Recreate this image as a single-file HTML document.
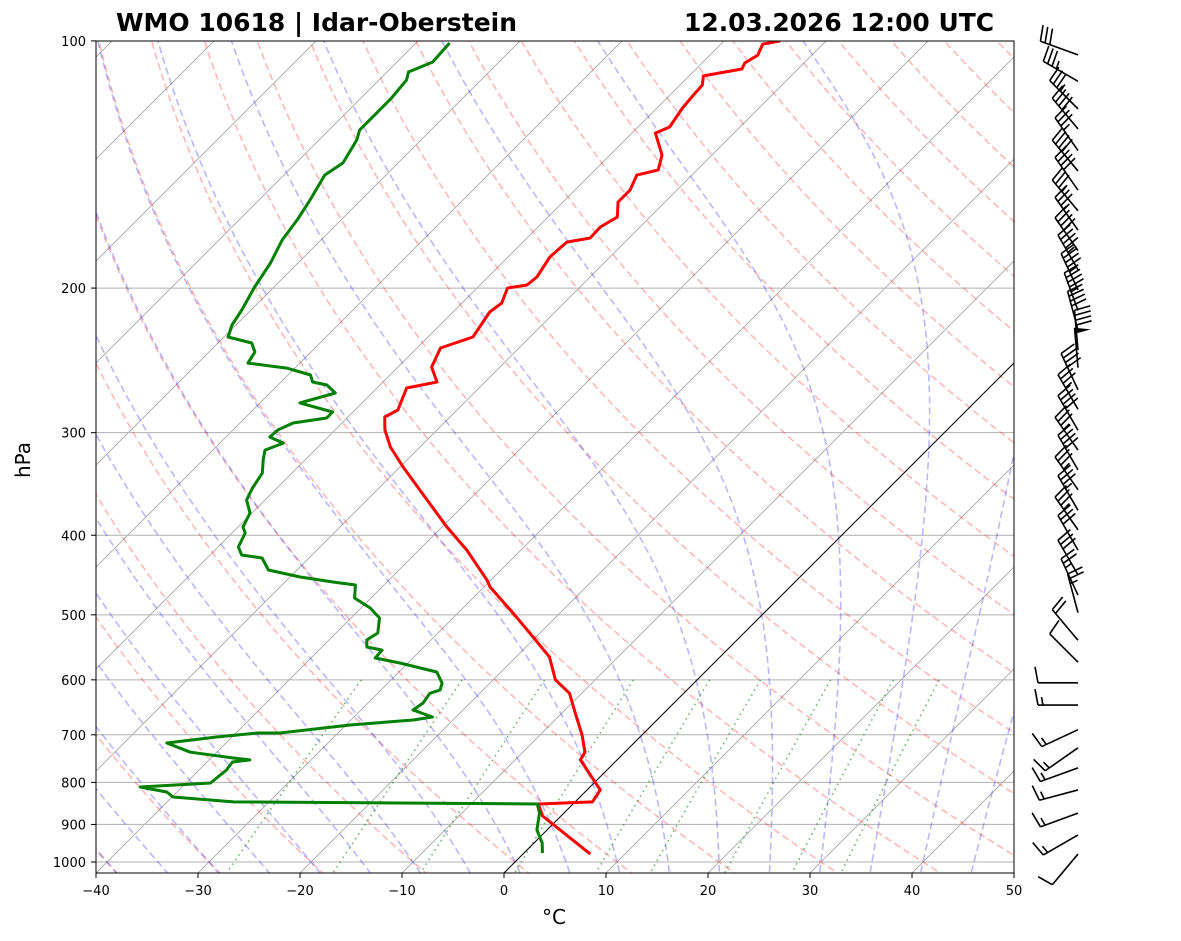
<!DOCTYPE html>
<html><head><meta charset="utf-8"><style>
html,body{margin:0;padding:0;background:#fff;}
svg{display:block;font-family:"DejaVu Sans","Liberation Sans",sans-serif;}
</style></head><body>
<svg id="chart" width="1181" height="941" viewBox="0 0 1181 941" xmlns="http://www.w3.org/2000/svg">
<defs><clipPath id="plotclip"><rect x="96" y="41" width="918" height="832"/></clipPath></defs>
<rect x="0" y="0" width="1181" height="941" fill="#fff"/>
<g id="bg" clip-path="url(#plotclip)"></g>
<g id="prof" clip-path="url(#plotclip)"></g>
<rect x="96" y="41" width="918" height="832" fill="none" stroke="#000" stroke-width="1"/>
<g id="axes"></g>
<g id="barbs"></g>
<text x="116" y="31" font-size="24.5" font-weight="bold" textLength="401" lengthAdjust="spacingAndGlyphs">WMO 10618 | Idar-Oberstein</text>
<text x="684" y="31" font-size="24.5" font-weight="bold" textLength="310" lengthAdjust="spacingAndGlyphs">12.03.2026 12:00 UTC</text>
<text x="554" y="924" font-size="20" text-anchor="middle">°C</text>
<text x="30" y="460" font-size="20" text-anchor="middle" transform="rotate(-90 30 460)">hPa</text>
</svg>
<script>
// ---- data ----
const tempP = [978,879,850,845,817,799,751,735,700,657,623,600,563,532,497.5,462.5,453.5,417,391,362.4,330.3,312.3,297.8,287.1,281.5,264.7,260.3,249.6,236.6,229.4,213.9,208.6,200,198.3,193.9,183.3,175.8,173.8,168.5,163.9,157.1,151.9,145.7,143.6,137.7,129.5,127.3,120.7,116.4,113.2,110.3,108.2,106.4,104.1,100.9,100];
const tempT = [6.6,-1.8,-3.4,1.7,1.3,0.0,-3.6,-3.9,-5.9,-8.8,-11.2,-13.9,-16.7,-20.3,-24.6,-29.4,-30.4,-35.3,-39.5,-44.1,-49.7,-52.9,-55.1,-56.4,-55.8,-57.1,-54.7,-56.7,-57.7,-55.6,-56.4,-56.1,-57.0,-55.4,-55.2,-55.9,-55.7,-53.8,-53.9,-53.2,-54.6,-54.6,-55.4,-53.8,-54.9,-57.7,-56.9,-57.5,-57.7,-57.8,-58.6,-55.5,-55.8,-55.3,-55.9,-54.5];
const dewP = [975,948,914,871.6,850,845,833.4,821.8,810.3,801.3,772.6,755.5,751,747.1,735,716.3,704.4,696.5,696.5,681,671.5,665.9,653,640.3,623,617.4,605.3,587,572.4,564.4,552,547.2,536.6,526.2,504.5,490.5,477,459.9,456,449.7,441,426.3,422.8,413.4,397.5,391,375.8,362.4,350.4,336,323.9,315,308.9,303.7,297.8,292,287.9,283.1,276,268.4,262.5,260.3,255.2,250.3,246.8,239.3,233.3,229.4,221.8,212.7,199.4,186.4,174.8,165.2,156.2,145.7,140.8,132,128.4,120.7,117.4,111.6,109.1,106.1,100.6];
const dewT = [1.8,0.8,-1.0,-2.4,-3.5,-33.5,-39.9,-41.0,-44.1,-37.6,-37.3,-37.5,-36.0,-37.8,-42.6,-45.8,-41.5,-37.9,-35.7,-29.6,-23.9,-22.3,-24.9,-24.6,-24.9,-24.2,-24.7,-26.3,-30.8,-33.7,-33.8,-35.6,-36.3,-35.9,-37.2,-39.1,-41.6,-42.8,-45.3,-49.0,-52.8,-54.6,-56.9,-58.0,-58.7,-59.5,-60.2,-61.8,-62.4,-62.9,-64.1,-64.9,-63.8,-65.7,-65.6,-64.8,-62.0,-62.0,-66.1,-63.6,-65.2,-66.9,-67.8,-70.8,-75.1,-75.5,-76.7,-79.6,-80.4,-80.9,-81.9,-82.7,-83.8,-84.3,-85.0,-86.0,-85.4,-86.3,-87.0,-87.0,-87.0,-87.3,-87.9,-86.5,-86.7];
const windP = [978,927,872,817,768,726,690,644,605,571,537,497,473,447,417,394,373,352,333,315,298,281,266,250,238,225,213,201,190,180,170,161,152,144,136,128,121,112,104];
const windDir = [220,240,250,255,250,235,245,270,270,315,320,345,335,330,330,325,330,325,330,325,330,330,335,355,355,345,340,335,330,325,325,320,325,320,325,320,315,300,290];
const windSpd = [10,15,15,15,15,15,15,15,10,10,20,25,25,30,30,35,35,35,40,35,40,35,40,50,40,40,45,45,45,40,35,35,40,40,35,40,35,35,30];
const pTicks = [100,200,300,400,500,600,700,800,900,1000];
const tTicks = [-40,-30,-20,-10,0,10,20,30,40,50];
const dryT0 = [-50,-40,-30,-20,-10,0,10,20,30,40,50,60,70,80,90,100,110,120,130,140,150,160,170,180,190,200];
const moistT0 = [-45,-40,-35,-30,-25,-20,-15,-10,-5,0,5,10,15,20,25,30,35,40,45];
const mixW = [0.0004,0.001,0.002,0.004,0.007,0.01,0.016,0.024,0.032];
const isoT = [-150,-140,-130,-120,-110,-100,-90,-80,-70,-60,-50,-40,-30,-20,-10,10,20,30,40,50];

// ---- axis functions ----
const NS="http://www.w3.org/2000/svg";
function yOf(p){return 862+356.6*Math.log(p/1000);}
function xOf(T,p){return 96+(T+40)*10.2+(873-yOf(p));}
function mk(tag,attrs,parent){const e=document.createElementNS(NS,tag);for(const k in attrs)e.setAttribute(k,attrs[k]);parent.appendChild(e);return e;}
function ptsStr(arr){return arr.map(a=>xOf(a[0],a[1]).toFixed(1)+","+yOf(a[1]).toFixed(1)).join(" ");}
const bg=document.getElementById('bg'),prof=document.getElementById('prof'),axes=document.getElementById('axes'),barbs=document.getElementById('barbs');
const pList=[];for(let p=1060;p>=95;p-=5)pList.push(p);

isoT.forEach(t=>{const l=mk('line',{x1:xOf(t,1060),y1:yOf(1060),x2:xOf(t,95),y2:yOf(95),stroke:'#000','stroke-opacity':0.35,'stroke-width':0.9},bg);

});
pTicks.forEach(p=>{const l=mk('line',{x1:96,y1:yOf(p),x2:1014,y2:yOf(p),stroke:'#b0b0b0','stroke-width':1},bg);

});
dryT0.forEach(t0=>{const a=pList.map(p=>[(t0+273.15)*Math.pow(p/1000,0.2857)-273.15,p]);
const l=mk('polyline',{points:ptsStr(a),fill:'none',stroke:'#ff0000','stroke-opacity':0.28,'stroke-width':1.6,'stroke-dasharray':'7,4'},bg);

});
function lapse(T,p){const Tc=T-273.15;const es=6.112*Math.exp(17.67*Tc/(Tc+243.5));const rs=0.622*es/(p-es);
return (287.04*T+2.501e6*rs)/(p*(1005.7+2.501e6*2.501e6*rs*0.622/(287.04*T*T)));}
function integ(T,p0,p1,n){const h=(p1-p0)/n;let p=p0;const out=[[T-273.15,p]];for(let i=0;i<n;i++){const k1=lapse(T,p);const k2=lapse(T+h*k1/2,p+h/2);T+=h*k2;p+=h;out.push([T-273.15,p]);}return out;}
moistT0.forEach(t0=>{const up=integ(t0+273.15,1000,100,180);const dn=integ(t0+273.15,1000,1060,12);
const a=dn.reverse().concat(up.slice(1));
const l=mk('polyline',{points:ptsStr(a),fill:'none',stroke:'#0000ff','stroke-opacity':0.28,'stroke-width':1.6,'stroke-dasharray':'7,4'},bg);

});
mixW.forEach(w=>{const a=[];for(let p=600;p<=1060;p+=10){const e=p*w/(0.622+w);const L=Math.log(e/6.112);a.push([243.5*L/(17.67-L),p]);}
const l=mk('polyline',{points:ptsStr(a),fill:'none',stroke:'#008000','stroke-opacity':0.55,'stroke-width':1.6,'stroke-dasharray':'1.6,4'},bg);

});
const z=mk('line',{x1:xOf(0,1060),y1:yOf(1060),x2:xOf(0,95),y2:yOf(95),stroke:'#000','stroke-width':1},bg);



const tl=mk('polyline',{points:ptsStr(tempT.map((t,i)=>[t,tempP[i]])),fill:'none',stroke:'#ff0000','stroke-width':3,'stroke-linejoin':'round'},prof);


const dl=mk('polyline',{points:ptsStr(dewT.map((t,i)=>[t,dewP[i]])),fill:'none',stroke:'#008000','stroke-width':3,'stroke-linejoin':'round'},prof);



pTicks.forEach(p=>{const y=yOf(p);mk('line',{x1:91,y1:y,x2:96,y2:y,stroke:'#000'},axes);
const t=mk('text',{x:86,y:y+5,'font-size':13,'text-anchor':'end'},axes);t.textContent=String(p);

});
tTicks.forEach(v=>{const x=96+(v+40)*10.2;mk('line',{x1:x,y1:873,x2:x,y2:878,stroke:'#000'},axes);
const t=mk('text',{x:x,y:895,'font-size':13,'text-anchor':'middle'},axes);t.textContent=(v<0?'\u2212'+(-v):String(v));

});

windP.forEach((p,i)=>{const ox=1078,oy=yOf(p);const th=windDir[i]*Math.PI/180;const dx=Math.sin(th),dy=-Math.cos(th);const L=40;
const g=mk('g',{},barbs);


const tx=ox+dx*L,ty=oy+dy*L;mk('line',{x1:ox,y1:oy,x2:tx,y2:ty,stroke:'#000','stroke-width':1.6},g);
const px=-dy,py=dx;let s=Math.round(windSpd[i]/5)*5;let pos=0;
while(s>=50){const bx=tx-dx*pos,by=ty-dy*pos;const b2x=bx-dx*6,b2y=by-dy*6;
mk('polygon',{points:`${bx},${by} ${b2x},${b2y} ${bx+px*16-dx*3},${by+py*16-dy*3}`,fill:'#000'},g);pos+=8;s-=50;}
while(s>=10){const bx=tx-dx*pos,by=ty-dy*pos;mk('line',{x1:bx,y1:by,x2:bx+px*16+dx*3,y2:by+py*16+dy*3,stroke:'#000','stroke-width':1.6},g);pos+=5;s-=10;}
if(s>=5){if(pos===0)pos=5;const bx=tx-dx*pos,by=ty-dy*pos;mk('line',{x1:bx,y1:by,x2:bx+px*8+dx*1.5,y2:by+py*8+dy*1.5,stroke:'#000','stroke-width':1.6},g);}
});
</script>
</body></html>
